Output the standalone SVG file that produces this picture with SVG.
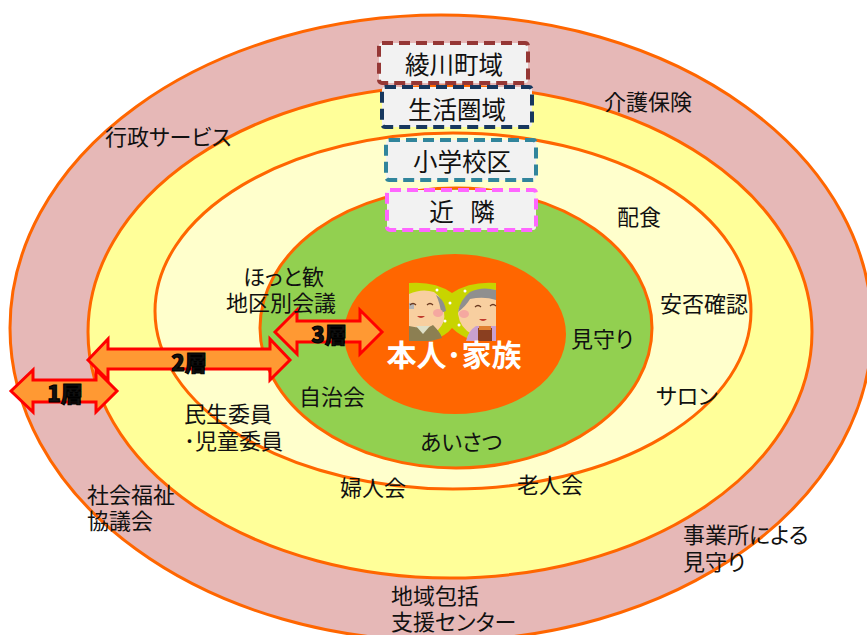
<svg xmlns="http://www.w3.org/2000/svg" width="867" height="635" viewBox="0 0 867 635">
<style>
text{font-family:"Noto Sans CJK JP","Liberation Sans",sans-serif;font-size:22px;fill:#111;font-feature-settings:"palt"}
.ring{stroke:#ff6600;stroke-width:3}
.box{fill:#f2f2f2;stroke-width:4;stroke-dasharray:11 6}
.box-t{font-size:24.5px;text-anchor:middle}
.arr{fill:#ff9933;stroke:#ff0000;stroke-width:3}
.lay{font-size:22px;font-weight:900;text-anchor:middle;stroke:#000;stroke-width:1.1}
.face{fill:none;stroke:#6b3a20;stroke-width:1.2}
</style>
<rect width="867" height="635" fill="#fff"/>
<g id="rings">
<ellipse id="ring1" class="ring" cx="441" cy="328" rx="431" ry="313" fill="#e6b8b7"/>
<ellipse id="ring2" class="ring" cx="450" cy="332" rx="362" ry="246" fill="#ffff99"/>
<ellipse id="ring3" class="ring" cx="453" cy="311" rx="298" ry="178" fill="#ffffcc"/>
<ellipse id="ring4" class="ring" cx="456" cy="328" rx="196" ry="140" fill="#92d050"/>
<ellipse id="ring5" cx="455" cy="334" rx="111" ry="80" fill="#ff6600"/>
</g>
<g id="box-ayagawa"><rect class="box" x="379" y="43" width="149" height="40" rx="3" stroke="#953735"/><text class="box-t" x="454" y="74">綾川町域</text></g>
<g id="box-seikatsu"><rect class="box" x="382" y="87" width="150" height="40" rx="3" stroke="#17375e"/><text class="box-t" x="457" y="119">生活圏域</text></g>
<g id="box-shogakko"><rect class="box" x="386" y="140" width="150" height="40" rx="3" stroke="#31859c"/><text class="box-t" x="462" y="171">小学校区</text></g>
<g id="box-kinrin"><rect class="box" x="387" y="190" width="149" height="40" rx="3" stroke="#ff66ff"/><text class="box-t" x="462" y="221" xml:space="preserve">近   隣</text></g>
<g id="persons">
<path d="M409 283Q435 281 452 293Q470 281 496 283V341H474Q460 336 452 328Q446 336 431 341H409Z" fill="#c8d400"/>
<path d="M409 294Q422 288 434 292Q443 298 444 312Q446 322 438 330Q430 338 420 336L409 330Z" fill="#f8cfa0"/>
<path d="M409 326Q425 330 433 325Q441 333 442 338L431 341H409Z" fill="#8c7f52"/>
<path d="M416 326H430L423 334Z" fill="#dfe0c8"/>
<path d="M439 297Q445 302 446 311L441 313Q440 303 436 295Z" fill="#8f8f8f"/>
<path d="M409 303H414V309H409Z" fill="#b5b5b5"/>
<path d="M496 290Q480 288 468 296Q458 306 458 314Q460 328 472 334Q482 338 496 332Z" fill="#f8cfa0"/>
<path d="M496 290Q482 286 470 292Q460 300 458 312Q466 306 470 299Q484 296 496 300Z" fill="#8f8f8f"/>
<path d="M466 341Q468 331 476 326L496 326V341Z" fill="#c9a0d0"/>
<path d="M478 328H492V341H478Z" fill="#8a3f20"/>
<path d="M479 326H491V330H479Z" fill="#e08030"/>
<ellipse cx="438" cy="313" rx="5" ry="4" fill="#f5a8a0"/><ellipse cx="464" cy="314" rx="5" ry="4" fill="#f5a8a0"/>
<path class="face" d="M410 305Q413 302 416 305M427 305Q430 302 433 305M475 307Q478 304 481 307M490 306Q493 303 496 306"/>
<path d="M417 316Q421 320 425 316Z" fill="#c0392b"/><path d="M479 319Q483 323 487 319Z" fill="#c0392b"/>
<circle cx="437" cy="290" r="1.5" fill="#fff"/><circle cx="450" cy="303" r="1.5" fill="#fff"/><circle cx="445" cy="321" r="1.5" fill="#fff"/><circle cx="459" cy="325" r="1.5" fill="#fff"/><circle cx="465" cy="291" r="1.5" fill="#fff"/>
<text x="454" y="366" style="font-size:30px;font-weight:700;fill:#fff;text-anchor:middle">本人･家族</text>
</g>
<g id="connectors">
<path class="arr" d="M88 360L108 339V349H270V339L290 360L270 380V369H108V380Z"/>
<path class="arr" d="M11 391L33 370V380H96V370L117 391L96 412V402H33V412Z"/>
<path class="arr" d="M275 332L297 310V321H360V310L382 332L360 354V342H297V354Z"/>
</g>
<g id="layer-labels">
<text class="lay" x="189" y="371">2層</text><text class="lay" x="65" y="402">1層</text><text class="lay" x="329" y="343">3層</text>
</g>
<g id="labels">
<text x="105" y="145">行政サービス</text>
<text x="604" y="110">介護保険</text>
<text x="617" y="225">配食</text>
<text x="660" y="312">安否確認</text>
<text x="656" y="404">サロン</text>
<text x="571" y="347">見守り</text>
<text x="226" y="285"><tspan x="243">ほっと歓</tspan><tspan x="226" y="311">地区別会議</tspan></text>
<text x="299" y="405">自治会</text>
<text x="420" y="450">あいさつ</text>
<text x="184" y="422"><tspan x="184">民生委員</tspan><tspan x="184" y="449">･児童委員</tspan></text>
<text x="340" y="496">婦人会</text>
<text x="517" y="493">老人会</text>
<text x="87" y="503"><tspan x="87">社会福祉</tspan><tspan x="87" y="529">協議会</tspan></text>
<text x="683" y="543"><tspan x="683">事業所による</tspan><tspan x="683" y="570">見守り</tspan></text>
<text x="391" y="604"><tspan x="391">地域包括</tspan><tspan x="391" y="630">支援センター</tspan></text>
</g>
</svg>
